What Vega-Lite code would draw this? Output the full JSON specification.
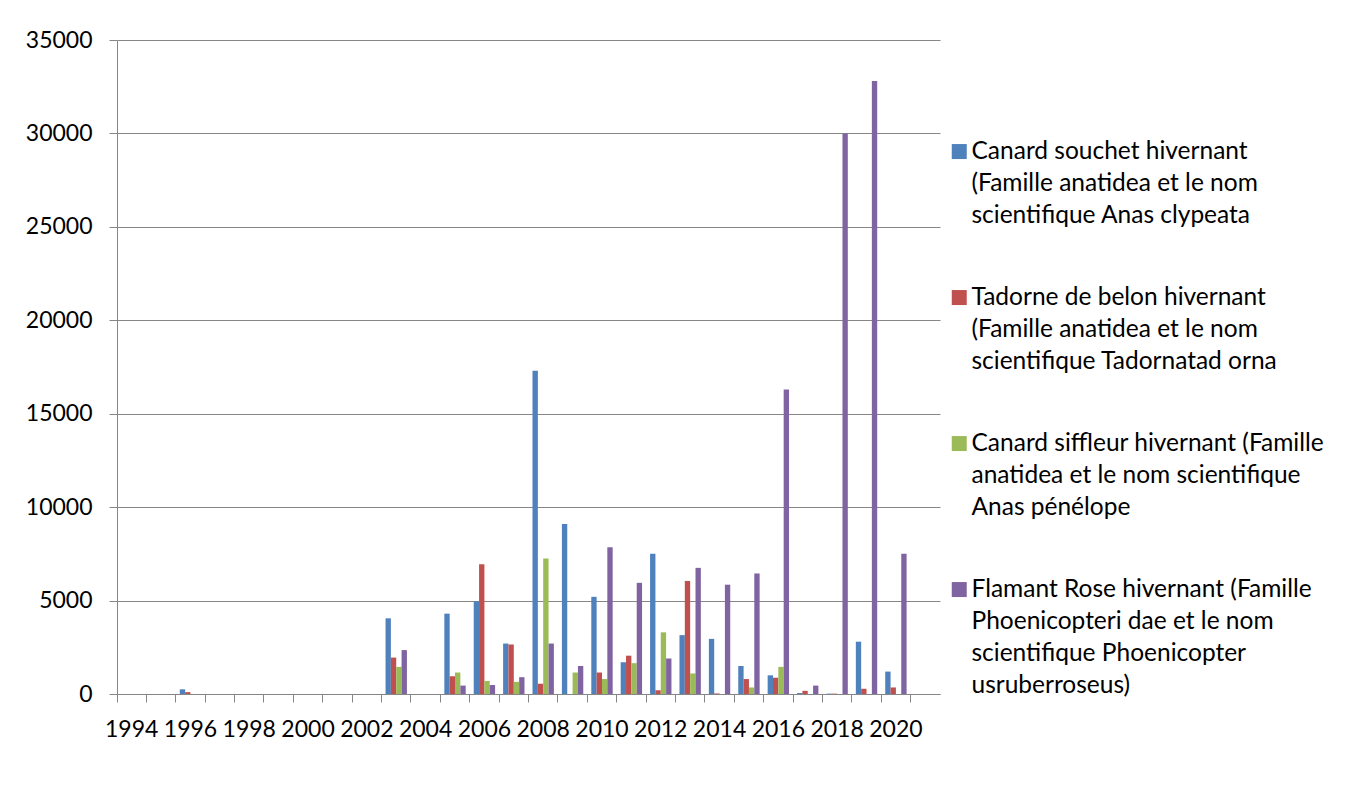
{
  "$schema": "https://vega.github.io/schema/vega-lite/v6.json",
  "width": 823,
  "height": 654,
  "autosize": {"type": "none"},
  "padding": {"left": 117, "top": 40, "right": 407, "bottom": 118},
  "background": "white",
  "config": {
    "view": {"stroke": null},
    "font": "Lato",
    "axis": {"labelFont": "Lato", "labelColor": "black", "labelFontSize": 23, "labelFontWeight": "normal"},
    "legend": {"labelFont": "Lato"},
    "style": {"guide-label": {"lineHeight": 32}}
  },
  "data": {
    "values": [
      {"annee": 1996, "espece": "souchet", "effectif": 250},
      {"annee": 1996, "espece": "tadorne", "effectif": 100},
      {"annee": 2003, "espece": "souchet", "effectif": 4050},
      {"annee": 2003, "espece": "tadorne", "effectif": 1950},
      {"annee": 2003, "espece": "siffleur", "effectif": 1450},
      {"annee": 2003, "espece": "flamant", "effectif": 2350},
      {"annee": 2005, "espece": "souchet", "effectif": 4300},
      {"annee": 2005, "espece": "tadorne", "effectif": 950},
      {"annee": 2005, "espece": "siffleur", "effectif": 1150},
      {"annee": 2005, "espece": "flamant", "effectif": 450},
      {"annee": 2006, "espece": "souchet", "effectif": 4950},
      {"annee": 2006, "espece": "tadorne", "effectif": 6950},
      {"annee": 2006, "espece": "siffleur", "effectif": 700},
      {"annee": 2006, "espece": "flamant", "effectif": 480},
      {"annee": 2007, "espece": "souchet", "effectif": 2700},
      {"annee": 2007, "espece": "tadorne", "effectif": 2650},
      {"annee": 2007, "espece": "siffleur", "effectif": 650},
      {"annee": 2007, "espece": "flamant", "effectif": 900},
      {"annee": 2008, "espece": "souchet", "effectif": 17300},
      {"annee": 2008, "espece": "tadorne", "effectif": 550},
      {"annee": 2008, "espece": "siffleur", "effectif": 7250},
      {"annee": 2008, "espece": "flamant", "effectif": 2700},
      {"annee": 2009, "espece": "souchet", "effectif": 9100},
      {"annee": 2009, "espece": "siffleur", "effectif": 1150},
      {"annee": 2009, "espece": "flamant", "effectif": 1500},
      {"annee": 2010, "espece": "souchet", "effectif": 5200},
      {"annee": 2010, "espece": "tadorne", "effectif": 1150},
      {"annee": 2010, "espece": "siffleur", "effectif": 800},
      {"annee": 2010, "espece": "flamant", "effectif": 7850},
      {"annee": 2011, "espece": "souchet", "effectif": 1700},
      {"annee": 2011, "espece": "tadorne", "effectif": 2050},
      {"annee": 2011, "espece": "siffleur", "effectif": 1650},
      {"annee": 2011, "espece": "flamant", "effectif": 5950},
      {"annee": 2012, "espece": "souchet", "effectif": 7500},
      {"annee": 2012, "espece": "tadorne", "effectif": 200},
      {"annee": 2012, "espece": "siffleur", "effectif": 3300},
      {"annee": 2012, "espece": "flamant", "effectif": 1900},
      {"annee": 2013, "espece": "souchet", "effectif": 3150},
      {"annee": 2013, "espece": "tadorne", "effectif": 6050},
      {"annee": 2013, "espece": "siffleur", "effectif": 1100},
      {"annee": 2013, "espece": "flamant", "effectif": 6750},
      {"annee": 2014, "espece": "souchet", "effectif": 2950},
      {"annee": 2014, "espece": "tadorne", "effectif": 30},
      {"annee": 2014, "espece": "flamant", "effectif": 5850},
      {"annee": 2015, "espece": "souchet", "effectif": 1500},
      {"annee": 2015, "espece": "tadorne", "effectif": 800},
      {"annee": 2015, "espece": "siffleur", "effectif": 350},
      {"annee": 2015, "espece": "flamant", "effectif": 6450},
      {"annee": 2016, "espece": "souchet", "effectif": 1000},
      {"annee": 2016, "espece": "tadorne", "effectif": 870},
      {"annee": 2016, "espece": "siffleur", "effectif": 1450},
      {"annee": 2016, "espece": "flamant", "effectif": 16300},
      {"annee": 2017, "espece": "souchet", "effectif": 50},
      {"annee": 2017, "espece": "tadorne", "effectif": 170},
      {"annee": 2017, "espece": "flamant", "effectif": 450},
      {"annee": 2018, "espece": "souchet", "effectif": 20},
      {"annee": 2018, "espece": "tadorne", "effectif": 20},
      {"annee": 2018, "espece": "flamant", "effectif": 30000},
      {"annee": 2019, "espece": "souchet", "effectif": 2800},
      {"annee": 2019, "espece": "tadorne", "effectif": 280},
      {"annee": 2019, "espece": "flamant", "effectif": 32800},
      {"annee": 2020, "espece": "souchet", "effectif": 1200},
      {"annee": 2020, "espece": "tadorne", "effectif": 350},
      {"annee": 2020, "espece": "flamant", "effectif": 7500}
    ]
  },
  "mark": {"type": "bar"},
  "encoding": {
    "x": {
      "field": "annee",
      "type": "ordinal",
      "scale": {
        "domain": [1994, 1995, 1996, 1997, 1998, 1999, 2000, 2001, 2002, 2003, 2004, 2005, 2006, 2007, 2008, 2009, 2010, 2011, 2012, 2013, 2014, 2015, 2016, 2017, 2018, 2019, 2020, 2021],
        "paddingInner": 0,
        "paddingOuter": 0
      },
      "axis": {
        "title": null,
        "labelAngle": 0,
        "bandPosition": 0,
        "labelExpr": "datum.value % 2 === 0 ? datum.label : ''",
        "labelOverlap": false,
        "labelPadding": 16,
        "tickSize": 8,
        "tickColor": "#868686",
        "domainColor": "#868686",
        "grid": false
      }
    },
    "xOffset": {
      "field": "espece",
      "type": "nominal",
      "scale": {"domain": ["souchet", "tadorne", "siffleur", "flamant"], "paddingInner": 0, "paddingOuter": 0.75}
    },
    "y": {
      "field": "effectif",
      "type": "quantitative",
      "scale": {"domain": [0, 35000], "nice": false},
      "axis": {
        "title": null,
        "values": [0, 5000, 10000, 15000, 20000, 25000, 30000, 35000],
        "format": "d",
        "grid": true,
        "gridColor": "#868686",
        "tickColor": "#868686",
        "domainColor": "#868686",
        "tickSize": 8,
        "labelPadding": 17
      }
    },
    "color": {
      "field": "espece",
      "type": "nominal",
      "scale": {
        "domain": ["souchet", "tadorne", "siffleur", "flamant"],
        "range": ["#4F81BD", "#C0504D", "#9BBB59", "#8064A2"]
      },
      "legend": {
        "title": null,
        "orient": "none",
        "legendX": 830,
        "legendY": 84,
        "padding": 0,
        "symbolType": "M-1,1.04H1V3.04H-1Z",
        "symbolSize": 225,
        "symbolStrokeWidth": 0,
        "labelFontSize": 24.5,
        "labelColor": "black",
        "labelLimit": 0,
        "labelOffset": 0,
        "labelBaseline": "line-top",
        "rowPadding": 42,
        "labelExpr": "datum.value == 'souchet' ? ['Canard souchet hivernant', '(Famille anatidea et le nom', 'scientifique Anas clypeata'] : datum.value == 'tadorne' ? ['Tadorne de belon hivernant', '(Famille anatidea et le nom', 'scientifique Tadornatad orna'] : datum.value == 'siffleur' ? ['Canard siffleur hivernant (Famille', 'anatidea et le nom scientifique', 'Anas pénélope'] : ['Flamant Rose hivernant (Famille', 'Phoenicopteri dae et le nom', 'scientifique Phoenicopter', 'usruberroseus)']"
      }
    }
  }
}
